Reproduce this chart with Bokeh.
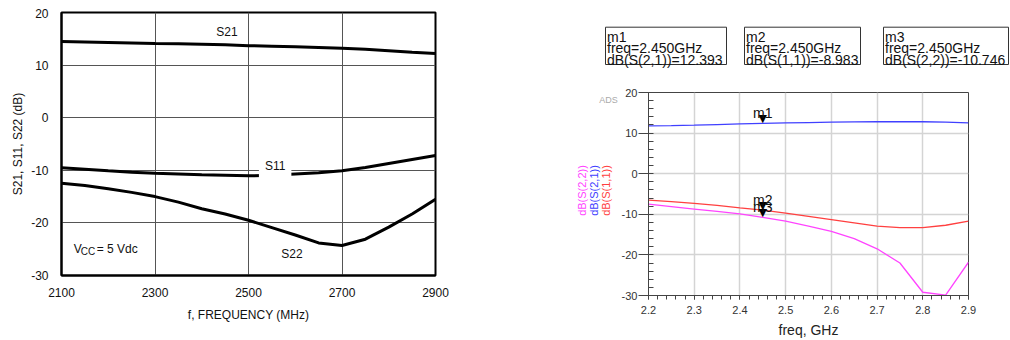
from bokeh.plotting import figure
from bokeh.models import Label, Range1d, FixedTicker, BoxAnnotation
from bokeh.core.properties import value
from bokeh.embed import file_html
from bokeh.resources import INLINE

SANS = "Liberation Sans, Arial, sans-serif"

# ---------------- left chart data (datasheet) ----------------
freq_mhz = [2100, 2150, 2200, 2250, 2300, 2350, 2400, 2450, 2500,
            2550, 2600, 2650, 2700, 2750, 2800, 2850, 2900]
s21_ds = [14.5, 14.4, 14.3, 14.2, 14.1, 14.05, 13.95, 13.85, 13.7,
          13.6, 13.5, 13.35, 13.2, 13.0, 12.75, 12.45, 12.2]
s11_ds = [-9.5, -9.8, -10.1, -10.35, -10.55, -10.7, -10.85, -10.95, -11.05,
          -10.95, -10.7, -10.45, -10.1, -9.45, -8.7, -7.95, -7.2]
s22_ds = [-12.45, -12.9, -13.5, -14.2, -15.0, -16.05, -17.3, -18.3, -19.5,
          -20.9, -22.3, -23.8, -24.3, -23.1, -20.8, -18.3, -15.5]
left_xticks = [2100, 2300, 2500, 2700, 2900]
left_yticks = [-30, -20, -10, 0, 10, 20]

# ---------------- right chart data (ADS simulation) ----------------
freq_ghz = [2.2, 2.25, 2.3, 2.35, 2.4, 2.45, 2.5, 2.55, 2.6,
            2.65, 2.7, 2.75, 2.8, 2.85, 2.9]
s21_sim = [11.8, 11.85, 11.95, 12.1, 12.25, 12.39, 12.5, 12.6, 12.7,
           12.75, 12.8, 12.8, 12.8, 12.7, 12.5]
s11_sim = [-6.5, -6.9, -7.3, -7.8, -8.4, -8.98, -9.7, -10.5, -11.3,
           -12.1, -12.9, -13.3, -13.3, -12.7, -11.7]
s22_sim = [-7.5, -8.1, -8.7, -9.3, -9.9, -10.75, -11.7, -12.9, -14.2,
           -16.0, -18.5, -22.0, -29.2, -29.9, -21.8]
right_xticks = [2.2, 2.3, 2.4, 2.5, 2.6, 2.7, 2.8, 2.9]
right_yticks = [-30, -20, -10, 0, 10, 20]
marker_names = ["m1", "m2", "m3"]
marker_freq = [2.45, 2.45, 2.45]
marker_vals = [12.393, -8.983, -10.746]
marker_traces = ["dB(S(2,1))", "dB(S(1,1))", "dB(S(2,2))"]
trace_names = ["dB(S(2,2))", "dB(S(2,1))", "dB(S(1,1))"]
trace_colors = ["#ff44ff", "#4040ff", "#ff4040"]

# ======================= LEFT FIGURE =======================
p1 = figure(width=472, height=324, x_range=Range1d(2100, 2900), y_range=Range1d(-30, 20),
            output_backend="svg", toolbar_location=None,
            min_border_left=52, min_border_right=45, min_border_top=4, min_border_bottom=57)
p1.outline_line_color = "black"
p1.outline_line_width = 2
for ax in (p1.xaxis[0], p1.yaxis[0]):
    ax.axis_line_color = "black"
    ax.axis_line_width = 2
    ax.major_tick_line_color = None
    ax.minor_tick_line_color = None
    ax.major_label_text_font = SANS
    ax.major_label_text_font_size = "12px"
    ax.major_label_text_color = "#111"
    ax.axis_label_text_font = SANS
    ax.axis_label_text_font_size = "12px"
    ax.axis_label_text_font_style = "normal"
    ax.axis_label_text_color = "#111"
p1.xaxis[0].ticker = FixedTicker(ticks=left_xticks)
p1.yaxis[0].ticker = FixedTicker(ticks=left_yticks)
p1.yaxis[0].major_label_overrides = {t: str(t) for t in left_yticks}
p1.xaxis[0].major_label_standoff = 6
p1.yaxis[0].major_label_standoff = 7
p1.xaxis[0].axis_label = "f, FREQUENCY (MHz)"
p1.yaxis[0].axis_label = "S21, S11, S22 (dB)"
p1.xaxis[0].axis_label_standoff = 8
p1.yaxis[0].axis_label_standoff = 3
p1.grid.grid_line_color = "#555555"
p1.grid.grid_line_width = 1

p1.line(freq_mhz, s21_ds, line_width=3, color="black")
p1.line(freq_mhz, s11_ds, line_width=3, color="black")
p1.line(freq_mhz, s22_ds, line_width=3, color="black")

p1.add_layout(Label(x=2454, y=16.2, text="S21", text_align="center", text_baseline="middle",
                    text_font=SANS, text_font_size="12px", text_color="#111"))
p1.add_layout(Label(x=2557, y=-9.1, text="S11", text_align="center", text_baseline="middle",
                    text_font=SANS, text_font_size="12px", text_color="#111",
                    background_fill_color="white", padding=6))
p1.add_layout(Label(x=2593, y=-25.9, text="S22", text_align="center", text_baseline="middle",
                    text_font=SANS, text_font_size="12px", text_color="#111"))
p1.add_layout(Label(x=2126, y=-24.9, text="V", text_align="left", text_baseline="middle",
                    text_font=SANS, text_font_size="12px", text_color="#111"))
p1.add_layout(Label(x=2126, y=-24.9, x_offset=7, y_offset=-3, text="CC", text_align="left",
                    text_baseline="middle", text_font=SANS, text_font_size="10px", text_color="#111"))
p1.add_layout(Label(x=2126, y=-24.9, x_offset=23, text="= 5 Vdc", text_align="left",
                    text_baseline="middle", text_font=SANS, text_font_size="12px", text_color="#111"))

# ======================= RIGHT FIGURE =======================
p2 = figure(width=522, height=332, x_range=Range1d(2.2, 2.9), y_range=Range1d(-30, 20),
            output_backend="svg", toolbar_location=None,
            min_border_left=168, min_border_right=34, min_border_top=84, min_border_bottom=45)
p2.outline_line_color = "#444444"
p2.outline_line_width = 1
minor_x = [round(2.2 + 0.02 * i, 2) for i in range(36)]
minor_y = [-30 + 2 * i for i in range(26)]
p2.xaxis[0].ticker = FixedTicker(ticks=right_xticks, minor_ticks=minor_x)
p2.yaxis[0].ticker = FixedTicker(ticks=right_yticks, minor_ticks=minor_y)
p2.yaxis[0].major_label_overrides = {t: str(t) for t in right_yticks}
for ax in (p2.xaxis[0], p2.yaxis[0]):
    ax.axis_line_color = "#444444"
    ax.major_tick_line_color = "#444444"
    ax.minor_tick_line_color = "#444444"
    ax.major_label_text_font = SANS
    ax.major_label_text_font_size = "11px"
    ax.major_label_text_color = "#333333"
    ax.axis_label_text_font = SANS
    ax.axis_label_text_font_size = "14px"
    ax.axis_label_text_font_style = "normal"
    ax.axis_label_text_color = "#222222"
p2.xaxis[0].major_tick_in = 0
p2.xaxis[0].major_tick_out = 4
p2.xaxis[0].minor_tick_in = 0
p2.xaxis[0].minor_tick_out = 4
p2.xaxis[0].major_label_standoff = 6
p2.xaxis[0].axis_label = "freq, GHz"
p2.xaxis[0].axis_label_standoff = 5
p2.yaxis[0].major_tick_in = 0
p2.yaxis[0].major_tick_out = 10
p2.yaxis[0].minor_tick_in = 5
p2.yaxis[0].minor_tick_out = 0
p2.yaxis[0].major_label_standoff = 1
p2.grid.grid_line_color = "#d4d4d4"
p2.grid.grid_line_width = 1.5

p2.line(freq_ghz, s21_sim, line_width=1.3, color=trace_colors[1])
p2.line(freq_ghz, s11_sim, line_width=1.3, color=trace_colors[2])
p2.line(freq_ghz, s22_sim, line_width=1.3, color=trace_colors[0])

p2.text(marker_freq, marker_vals, text=["\u25bc"] * 3, text_align="center", text_baseline="bottom",
        y_offset=2, text_font=value("DejaVu Sans"), text_font_size="11px", text_color="black")
p2.text(marker_freq, marker_vals, text=marker_names, text_align="center", text_baseline="alphabetic",
        y_offset=-10, text_font=value(SANS), text_font_size="14px", text_color="#111")

# ============ overlay for texts outside the right plot frame ============
p3 = figure(width=530, height=332, x_range=Range1d(0, 530), y_range=Range1d(332, 0),
            output_backend="svg", toolbar_location=None, x_axis_type=None, y_axis_type=None,
            min_border=0, min_border_left=0, min_border_right=0, min_border_top=0,
            min_border_bottom=0)
p3.grid.visible = False
p3.outline_line_color = None
p3.background_fill_color = None
p3.border_fill_color = None

# marker readout boxes (overlay pixel positions)
box_left = [125, 264, 403]
box_right = [246, 380, 528]
for i in range(3):
    p3.add_layout(BoxAnnotation(left=box_left[i], right=box_right[i], top=18.7, bottom=56,
                                fill_color="white", fill_alpha=1.0,
                                line_color="#333333", line_alpha=1.0, line_width=1))
    lines = [marker_names[i], f"freq={marker_freq[i]:.3f}GHz",
             f"{marker_traces[i]}={marker_vals[i]:.3f}"]
    for j, line in enumerate(lines):
        p3.add_layout(Label(x=box_left[i] + 1.5, y=28.5 + 11.3 * j, text=line,
                            text_align="left", text_baseline="alphabetic",
                            text_font=SANS, text_font_size="14px", text_color="#111"))

leg_x = [101, 113, 125]
for i in range(3):
    p3.add_layout(Label(x=leg_x[i], y=182, text=trace_names[i], angle=90, angle_units="deg",
                        text_align="center", text_baseline="middle",
                        text_font=SANS, text_font_size="11px", text_color=trace_colors[i]))

p3.add_layout(Label(x=128, y=91, text="ADS", text_align="center", text_baseline="middle",
                    text_font=SANS, text_font_size="9px", text_color="#aaaaaa"))

places = [(p1, 8, 8), (p2, 480, 8), (p3, 480, 8)]
css = "<style>" + "".join(
    f'div[data-root-id="{m.id}"]{{position:absolute !important;display:block !important;'
    f'left:{l}px;top:{t}px;}}' for m, l, t in places) + "</style>"
html = file_html([p1, p2, p3], INLINE)
html = html.replace("</head>", css + "</head>", 1)
open("out.html", "w").write(html)
